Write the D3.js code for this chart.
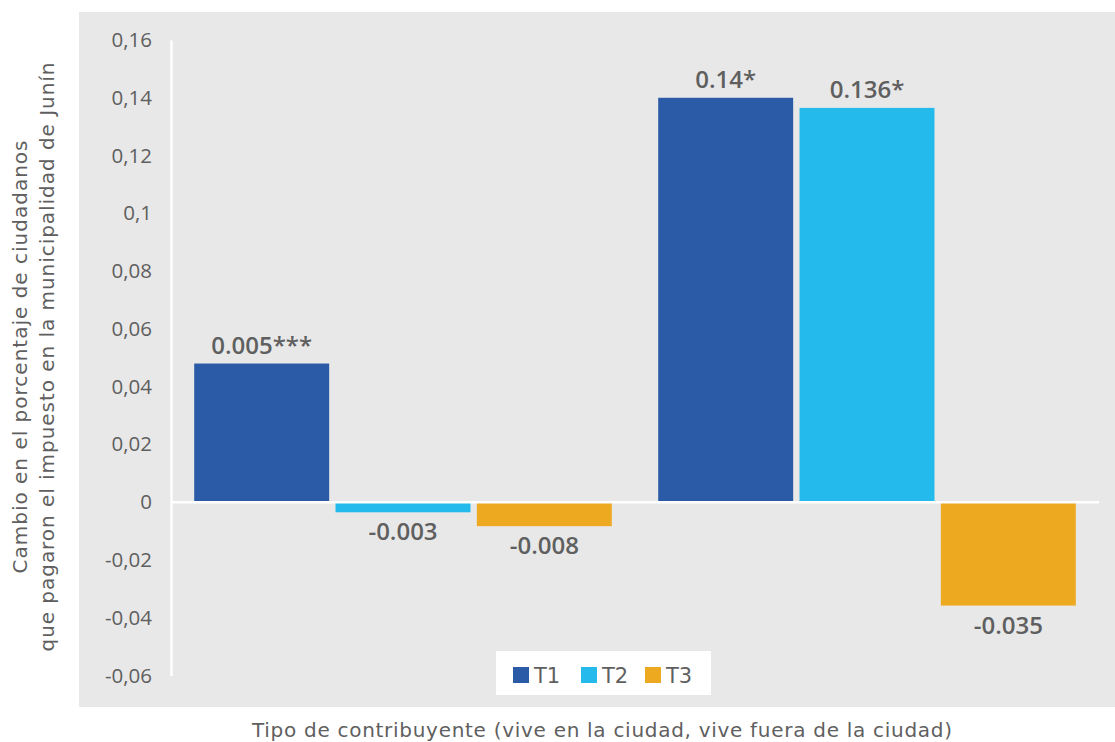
<!DOCTYPE html>
<html><head><meta charset="utf-8">
<script src="https://cdn.jsdelivr.net/npm/d3@7"></script>
<style>body{margin:0;background:#fff;}svg{display:block;font-family:"Open Sans",sans-serif;}</style>
</head><body>
<svg id="c" width="1115" height="742"></svg>
<script>
const groups = ["Vive en la ciudad", "Vive fuera de la ciudad"];
const seriesNames = ["T1", "T2", "T3"];
const T1 = [0.048, 0.140];
const T2 = [-0.0035, 0.1365];
const T3 = [-0.0083, -0.0358];
const labelsT1 = ["0.005***", "0.14*"];
const labelsT2 = ["-0.003", "0.136*"];
const labelsT3 = ["-0.008", "-0.035"];
const yTicks = [0.16, 0.14, 0.12, 0.1, 0.08, 0.06, 0.04, 0.02, 0, -0.02, -0.04, -0.06];
const colors = ["#2B5AA6", "#24BBEC", "#EDA920"];

const svg = d3.select("#c");
const textCol = "#5f5f5f";
svg.append("rect").attr("x",79).attr("y",12).attr("width",1036).attr("height",695).attr("fill","#e8e8e8");

const y = d3.scaleLinear().domain([-0.06,0.16]).range([675.5,40]);
const x0 = d3.scaleBand().domain(groups).range([171,1099]).paddingInner(0.1).paddingOuter(0.05);
const x1 = d3.scaleBand().domain(seriesNames).range([0,x0.bandwidth()]).paddingInner(0.045);

const vals = [T1,T2,T3], labs=[labelsT1,labelsT2,labelsT3];
const data = [];
groups.forEach((g,gi)=>seriesNames.forEach((s,si)=>data.push({g,s,si,v:vals[si][gi],lab:labs[si][gi]})));

// bars
svg.selectAll("rect.bar").data(data).join("rect").attr("class","bar")
  .attr("x",d=>x0(d.g)+x1(d.s)).attr("width",x1.bandwidth())
  .attr("y",d=>y(Math.max(0,d.v))).attr("height",d=>Math.abs(y(d.v)-y(0)))
  .attr("fill",d=>colors[d.si]);

// axis
const ax = svg.append("g").attr("transform","translate(171,0)")
  .call(d3.axisLeft(y).tickValues(yTicks).tickSize(0).tickPadding(19).tickFormat(d=>String(+d.toFixed(2)).replace(".",",")));
ax.select(".domain").attr("stroke","#fff").attr("stroke-width",2.5);
ax.selectAll("text").attr("fill",textCol).attr("font-size",20.5).style("font-family","Open Sans");
// zero line
svg.append("line").attr("x1",171).attr("x2",1099).attr("y1",y(0)).attr("y2",y(0)).attr("stroke","#fff").attr("stroke-width",2.5);

// labels
svg.selectAll("text.lab").data(data).join("text").attr("class","lab")
  .attr("x",d=>x0(d.g)+x1(d.s)+x1.bandwidth()/2)
  .attr("y",d=>d.v>=0?y(d.v)-10:y(d.v)+28)
  .attr("text-anchor","middle").attr("fill",textCol).attr("font-size",24).attr("font-weight",600)
  .text(d=>d.lab);

// legend
const lg = svg.append("g");
lg.append("rect").attr("x",496).attr("y",651).attr("width",215).attr("height",44).attr("fill","#fff");
const lx=[513,581,645];
seriesNames.forEach((s,i)=>{
  lg.append("rect").attr("x",lx[i]).attr("y",667).attr("width",16).attr("height",16).attr("fill",colors[i]);
  lg.append("text").attr("x",lx[i]+21).attr("y",683).attr("fill",textCol).attr("font-size",21)
    .style("font-family","DejaVu Sans").text(s);
});

// axis titles
function title(t, len){
  return t.style("font-family","DejaVu Sans").attr("text-anchor","middle").attr("fill",textCol)
    .attr("font-size",20).attr("textLength",len).attr("lengthAdjust","spacing");
}
title(svg.append("text").attr("transform","translate(27,357) rotate(-90)"),433).text("Cambio en el porcentaje de ciudadanos");
title(svg.append("text").attr("transform","translate(54,357) rotate(-90)"),589).text("que pagaron el impuesto en la municipalidad de Junín");
title(svg.append("text").attr("x",602).attr("y",737),700).text("Tipo de contribuyente (vive en la ciudad, vive fuera de la ciudad)");
</script>
</body></html>
